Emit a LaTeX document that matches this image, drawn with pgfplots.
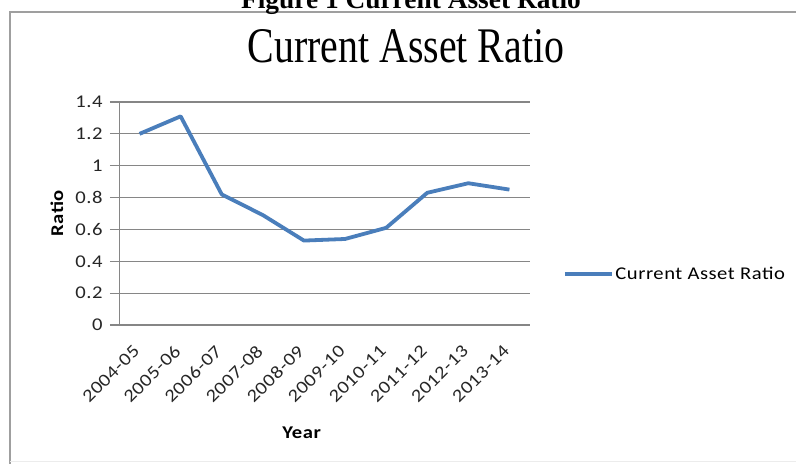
\documentclass[border=0pt]{standalone}
\usepackage{pgfplots}
\pgfplotsset{compat=1.18}
\usepackage{fontspec}
\setmainfont{Carlito}[FakeStretch=1.15, LetterSpace=3]
\newfontfamily\timesfont{Liberation Serif}
\definecolor{excelblue}{RGB}{74,126,187}
\definecolor{gridgray}{RGB}{134,134,134}
\pgfplotstableread{
x y
0 1.20
1 1.31
2 0.82
3 0.69
4 0.53
5 0.54
6 0.61
7 0.83
8 0.89
9 0.85
}\cardata
\begin{document}
\begin{tikzpicture}
\clip (0bp,0bp) rectangle (796bp,468bp);
\fill[white] (0bp,0bp) rectangle (796bp,468bp);
\draw[gray!75, line width=1.2bp] (10bp,4bp) -- (10bp,456bp) -- (800bp,456bp);
\draw[gray!15, line width=1bp] (10bp,6bp) -- (800bp,6bp);
\node[anchor=base, font=\timesfont\bfseries\fontsize{27.5}{27.5}\selectfont] at (411bp,459bp) {Figure 1 Current Asset Ratio};
\node[anchor=base] at (406bp,405bp) {\scalebox{1}[1.25]{\timesfont\fontsize{40}{40}\selectfont Current Asset Ratio}};
\begin{axis}[
  at={(119bp,143bp)}, anchor=south west,
  scale only axis, width=411bp, height=223bp,
  xmin=-0.5, xmax=9.5, ymin=0, ymax=1.4,
  axis x line*=bottom, axis y line*=left,
  axis line style={gridgray, line width=1bp, -},
  xtick={0,...,9},
  xticklabels={2004-05,2005-06,2006-07,2007-08,2008-09,2009-10,2010-11,2011-12,2012-13,2013-14},
  ytick={0,0.2,0.4,0.6,0.8,1,1.2,1.4},
  yticklabels={0,0.2,0.4,0.6,0.8,1,1.2,1.4},
  ymajorgrids, grid style={gridgray, line width=1.1bp},
  tick align=outside, major tick length=9bp,
  ytick style={gridgray, line width=1.1bp},
  xtick style={draw=none},
  yticklabel style={font=\fontsize{18}{18}\selectfont, text=black!85, xshift=-4bp},
  xticklabel style={font=\fontsize{18}{18}\selectfont, text=black!85, rotate=45, anchor=east, xshift=-9bp, yshift=-8bp},
  xlabel={\textbf{Year}}, ylabel={\textbf{Ratio}},
  xlabel style={font=\fontsize{18}{18}\selectfont, at={(axis description cs:0.445,-0.484)}, anchor=center},
  ylabel style={font=\fontsize{18}{18}\selectfont, at={(axis description cs:-0.151,0.502)}, anchor=center},
  legend style={draw=none, fill=none, at={(1.080,0.229)}, anchor=west, inner sep=0pt,
    font=\fontsize{18}{18}\selectfont, nodes={inner sep=1.5bp}},
  legend image code/.code={\draw[#1] (0bp,0bp) -- (47bp,0bp);},
  clip=false,
]
\addplot[excelblue, line width=3.8bp, line join=round] table[x=x,y=y] {\cardata};
\addlegendentry{Current Asset Ratio}
\end{axis}
\end{tikzpicture}
\end{document}
